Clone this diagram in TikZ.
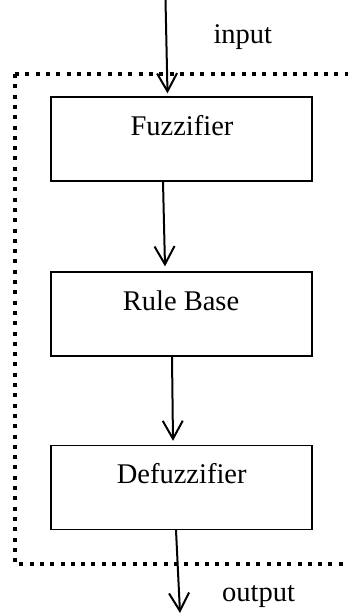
\documentclass[tikz,border=0pt]{standalone}
\usepackage{fontspec}
\setmainfont{Liberation Serif}
\usetikzlibrary{arrows.meta,calc}
\begin{document}
\begin{tikzpicture}[x=1pt,y=-1pt,
  stage/.style={draw, line width=1.3pt, minimum width=261pt, minimum height=84pt, inner sep=0pt},
  lbl/.style={font=\fontsize{28.5}{34}\selectfont, inner sep=0pt},
  flow/.style={line width=2pt, -{Straight Barb[length=18pt,width=20pt,line width=2pt]}},
  frame/.style={line width=4pt, dash pattern=on 4pt off 6.3pt}]
\useasboundingbox (0,0) rectangle (348,614);

% outer dotted boundary, open to the right
\draw[frame] (15,74) -- (348,74);
\draw[frame] (15,74) -- (15,564) -- (348,564);

% processing stages
\node[stage] (fuzz)   at (181.5,139)   {};
\node[stage] (rule)   at (181.5,314)   {};
\node[stage] (defuzz) at (181.5,487.5) {};

\node[lbl, anchor=base] (fuzzt)   at (182,135.7)   {Fuzzifier};
\node[lbl, anchor=base] (rulet)   at (181,310)     {Rule Base};
\node[lbl, anchor=base] (defuzzt) at (181.7,483.3) {Defuzzifier};

\node[lbl, anchor=base west] (inlbl)  at (213.3,43.3) {input};
\node[lbl, anchor=base west] (outlbl) at (222,601.5)  {output};

% signal flow
\coordinate (in)  at (165.5,0);
\coordinate (out) at (180,613);
\draw[flow] (in) -- ($(fuzz.north)+(-14,-3)$);
\draw[flow] ($(fuzz.south)+(-18.5,0)$) -- ($(rule.north)+(-16.5,-5)$);
\draw[flow] ($(rule.south)+(-9.5,0)$) -- ($(defuzz.north)+(-8.5,-4)$);
\draw[flow] ($(defuzz.south)+(-5.5,0)$) -- (out);
\end{tikzpicture}
\end{document}
